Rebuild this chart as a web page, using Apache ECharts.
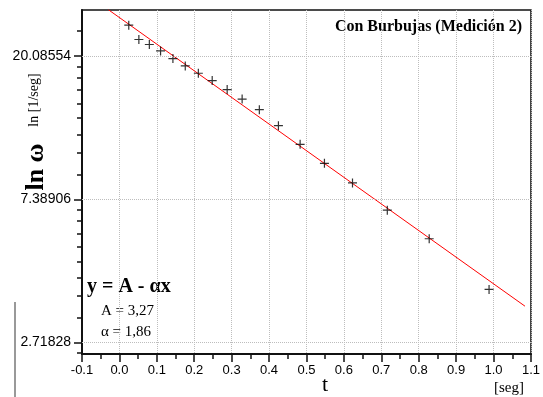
<!DOCTYPE html>
<html>
<head>
<meta charset="utf-8">
<script src="https://cdn.jsdelivr.net/npm/echarts@6/dist/echarts.min.js"></script>
<style>
  html, body { margin: 0; padding: 0; background: #fff; }
  #chart { width: 543px; height: 397px; }
</style>
</head>
<body>
<div id="chart"></div>
<script>
// measured points: t [seg] vs ln(omega)
const tValues = [0.025, 0.052, 0.080, 0.110, 0.143, 0.176, 0.211, 0.248, 0.288, 0.328, 0.374, 0.425, 0.483, 0.548, 0.623, 0.716, 0.828, 0.988]
const lnOmega = [3.217, 3.117, 3.082, 3.037, 2.984, 2.932, 2.881, 2.830, 2.767, 2.701, 2.627, 2.515, 2.385, 2.252, 2.115, 1.925, 1.725, 1.371]

// fitted line end points (y = A - alpha x)
const fitT = [-0.03, 1.084]
const fitLn = [3.326, 1.254]

// y axis major ticks (ln values), labelled as e^n
const yMajor = [1, 2, 3]

// minor ticks like Origin: 9 linear steps in omega between e^n and e^(n+1)
const yMinor = []
for (let n = 0; n < 4; n++) {
  const a = Math.exp(n), b = Math.exp(n + 1)
  for (let j = 1; j < 9; j++) yMinor.push(Math.log(a + j * (b - a) / 9))
}

const yMin = 0.92, yMax = 3.323
const serif = '"Liberation Serif", "Times New Roman", serif'
const sans = '"Liberation Sans", Arial, sans-serif'
const gridColor = '#bdbdbd'

const chart = echarts.init(document.getElementById('chart'))

const option = {
  animation: false,
  grid: {
    left: 82, right: 12, top: 10, bottom: 43,
    show: true, borderColor: '#111', borderWidth: 1.5
  },
  xAxis: {
    type: 'value',
    min: -0.1, max: 1.1, interval: 0.1,
    axisLine: { onZero: false, lineStyle: { color: '#111', width: 2 } },
    axisTick: { show: true, length: 8, lineStyle: { color: '#111', width: 1.5 } },
    minorTick: { show: true, splitNumber: 2, length: 5, lineStyle: { color: '#111', width: 1.5 } },
    axisLabel: {
      color: '#000', fontFamily: sans, fontSize: 13, margin: 10,
      formatter: v => v.toFixed(1)
    },
    splitLine: { show: true, lineStyle: { color: gridColor, type: 'dotted', width: 1 } }
  },
  yAxis: [
    {
      type: 'value',
      min: yMin, max: yMax,
      axisLine: { show: true, onZero: false, lineStyle: { color: '#111', width: 2 } },
      axisTick: { show: true, length: 8, customValues: yMajor, lineStyle: { color: '#111', width: 1.5 } },
      axisLabel: {
        color: '#000', fontFamily: sans, fontSize: 14, margin: 11,
        customValues: yMajor,
        formatter: v => Math.exp(v).toFixed(5)
      },
      splitLine: { show: false }
    },
    {
      type: 'value',
      min: yMin, max: yMax,
      position: 'left',
      axisLine: { show: false, onZero: false },
      axisTick: { show: true, length: 5, customValues: yMinor.filter(v => v > yMin && v < yMax), lineStyle: { color: '#111', width: 1.5 } },
      axisLabel: { show: false },
      splitLine: { show: false }
    }
  ],
  series: [
    {
      type: 'line',
      data: fitT.map((t, i) => [t, fitLn[i]]),
      symbol: 'none',
      lineStyle: { color: '#ff0000', width: 1 },
      z: 2,
      markLine: {
        silent: true,
        symbol: 'none',
        label: { show: false },
        lineStyle: { color: gridColor, type: 'dotted', width: 1 },
        data: yMajor.map(v => ({ yAxis: v }))
      }
    },
    {
      type: 'scatter',
      data: tValues.map((t, i) => [t, lnOmega[i]]),
      symbol: 'path://M5,0 L5,10 M0,5 L10,5',
      symbolSize: 9,
      itemStyle: { color: 'none', borderColor: '#000', borderWidth: 1.2 },
      z: 3
    }
  ],
  graphic: [
    {
      type: 'text', x: 522, y: 27,
      style: { text: 'Con Burbujas (Medición 2)', font: 'bold 16px ' + serif, fill: '#000', align: 'right', verticalAlign: 'middle' }
    },
    {
      type: 'text', left: 87, top: 277,
      style: { text: 'y = A - αx', font: 'bold 20px ' + serif, fill: '#000' }
    },
    {
      type: 'text', left: 101, top: 304,
      style: { text: 'A = 3,27', font: '15px ' + serif, fill: '#000' }
    },
    {
      type: 'text', left: 101, top: 325,
      style: { text: 'α = 1,86', font: '15px ' + serif, fill: '#000' }
    },
    {
      type: 'text', x: 36, y: 167, rotation: Math.PI / 2,
      style: { text: 'ln ω', font: 'bold 26px ' + serif, fill: '#000', align: 'center', verticalAlign: 'middle' }
    },
    {
      type: 'text', x: 34, y: 100, rotation: Math.PI / 2,
      style: { text: 'ln [1/seg]', font: '14px ' + serif, fill: '#000', align: 'center', verticalAlign: 'middle' }
    },
    {
      type: 'text', x: 325, y: 385,
      style: { text: 't', font: '22px ' + serif, fill: '#000', align: 'center', verticalAlign: 'middle' }
    },
    {
      type: 'text', x: 509, y: 388,
      style: { text: '[seg]', font: '15px ' + serif, fill: '#000', align: 'center', verticalAlign: 'middle' }
    },
    {
      type: 'line', shape: { x1: 15, y1: 302, x2: 15, y2: 397 },
      style: { stroke: '#999', lineWidth: 2 }
    }
  ]
}

chart.setOption(option)
</script>
</body>
</html>
